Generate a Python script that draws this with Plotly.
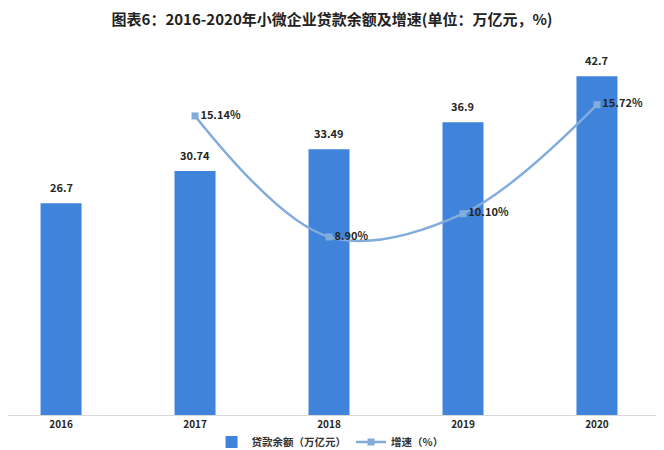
import plotly.graph_objects as go

years = ["2016", "2017", "2018", "2019", "2020"]
balance = [26.7, 30.74, 33.49, 36.9, 42.7]
growth = [None, 15.14, 8.90, 10.10, 15.72]
growth_labels = ["", "15.14%", "8.90%", "10.10%", "15.72%"]

xpos = list(range(len(years)))
font = "Noto Sans CJK SC"
label_color = "#262626"

fig = go.Figure()
fig.add_trace(go.Bar(
    x=xpos, y=balance, width=0.306, name="贷款余额（万亿元）",
    marker=dict(color="#3f83da", line=dict(width=0)),
))
xg = [x for x, g in zip(xpos, growth) if g is not None]
yg = [g for g in growth if g is not None]
lg = [l for l, g in zip(growth_labels, growth) if g is not None]
fig.add_trace(go.Scatter(
    x=xg, y=yg, yaxis="y2", name="增速（%）", mode="lines+markers+text",
    line=dict(color="#82acdc", width=2.5, shape="spline", smoothing=1.0),
    marker=dict(symbol="square", size=7, color="#82acdc"),
    text=lg, textposition="middle right",
    textfont=dict(family=font, size=11, color=label_color, weight="bold"),
    cliponaxis=False,
))

for x, v in zip(xpos, balance):
    fig.add_annotation(x=x, y=v, xref="x", yref="y", text=str(v), showarrow=False,
                       yanchor="bottom", yshift=6,
                       font=dict(family=font, size=11, color=label_color, weight="bold"))

fig.update_layout(
    width=664, height=450,
    margin=dict(l=0, r=0, t=42, b=43, autoexpand=False),
    paper_bgcolor="white", plot_bgcolor="white",
    font=dict(family=font, size=11, color="#333333"),
    title=dict(text="图表6：2016-2020年小微企业贷款余额及增速(单位：万亿元，%)",
               x=0.488, xanchor="center", y=1 - 12 / 450, yanchor="middle",
               font=dict(family=font, size=15, color="#222222", weight="bold")),
    xaxis=dict(range=[-0.396, 4.56], tickvals=xpos, ticktext=years,
               showgrid=False, zeroline=False, showline=True,
               linecolor="#d9d9d9", linewidth=1, ticks="",
               tickfont=dict(family=font, size=10, color=label_color, weight="bold")),
    yaxis=dict(range=[0, 46], visible=False, showgrid=False),
    yaxis2=dict(range=[-0.28, 18.54], overlaying="y", visible=False, showgrid=False),
    legend=dict(orientation="h", x=0.485, xanchor="center",
                yref="container", y=16 / 450, yanchor="middle",
                bgcolor="rgba(0,0,0,0)",
                font=dict(family=font, size=10.5, color="#333333", weight="bold"),
                itemwidth=30),
    showlegend=True,
)

fig.write_html("out.html")
